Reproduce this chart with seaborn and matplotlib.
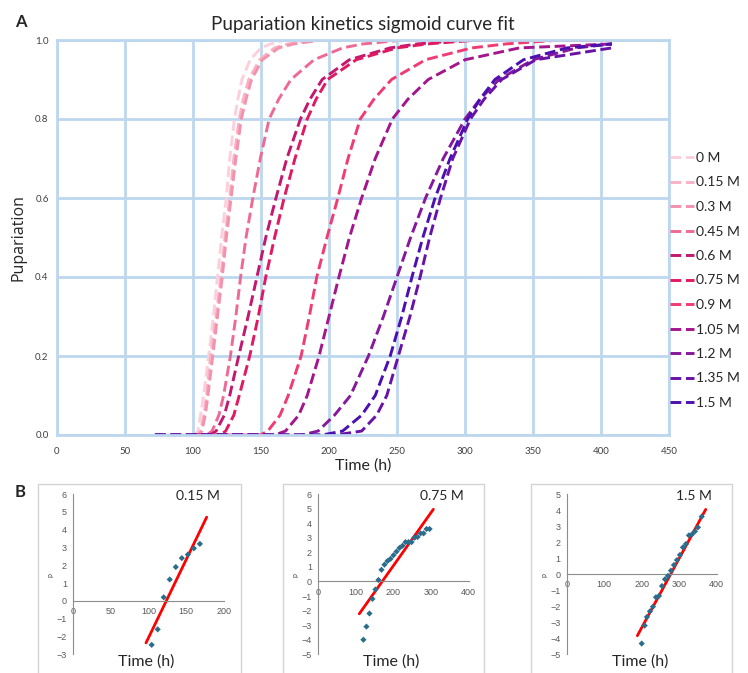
import matplotlib
matplotlib.use("Agg")
import matplotlib.pyplot as plt
from matplotlib.patches import Rectangle
import seaborn as sns

sns.set_style("white")
plt.rcParams['font.family'] = ['Lato', 'DejaVu Sans']

# pupariation levels (first/last entries = flat start / end)
levels = [0, 0, 0.01, 0.05, 0.1, 0.2, 0.3, 0.4, 0.5, 0.6, 0.7, 0.8, 0.85, 0.9, 0.95, 0.98, 0.99, 1.0, 1.0]

# time (h) at which each curve reaches the level above
t_000 = [100, 101.5, 103.5, 105.5, 107.8, 111.5, 115, 118, 121, 124.5, 127, 130.5, 133, 136, 142, 150, 157, 168, 408]
t_015 = [100, 103.5, 105.5, 108, 110, 113, 117, 120.5, 123.5, 127, 130, 134, 137, 141, 149, 160, 170, 190, 408]
t_030 = [100, 104, 106.5, 109, 111, 114.5, 118, 121.5, 124.5, 128, 131.5, 135.5, 139, 143, 151, 163, 174, 195, 408]
t_045 = [100, 110, 114, 119, 122.5, 127.5, 131.5, 135, 139, 144, 149.5, 156, 163, 172, 189, 210, 225, 255, 408]
t_060 = [100, 112.7, 117, 123, 127, 133.6, 140.5, 147, 153.5, 161, 169, 179, 186, 195, 215, 245, 265, 300, 408]
t_075 = [100, 120, 124, 130, 134, 141.7, 148, 153.5, 160, 167, 175, 184, 190.5, 199, 220, 250, 272, 310, 408]
t_090 = [100, 149.5, 155, 164, 170, 179.5, 185.5, 191, 198.5, 206.5, 214, 223, 233, 246, 271, 305, 330, 370, 408]
t_105 = [72, 160, 168, 177.7, 184, 192.7, 200, 207.3, 215, 224, 234, 246.6, 258, 273, 300, 340, 408]
t_120 = [72, 180, 192, 204, 215.8, 229, 240, 250, 260, 271, 284, 300, 311, 325, 350, 382, 408]
t_135 = [72, 205, 224, 235, 242.5, 251, 259.5, 267, 274, 282, 291, 304, 314, 327, 352, 408]
t_150 = [72, 195, 210, 224, 234, 245, 253.5, 261, 269, 278, 289, 302, 311, 322, 343, 375, 408]

conc_labels = ['0 M', '0.15 M', '0.3 M', '0.45 M', '0.6 M', '0.75 M', '0.9 M',
               '1.05 M', '1.2 M', '1.35 M', '1.5 M']
conc_colors = ['#fbd0dc', '#f8b2c4', '#f492ad', '#ee6a94', '#c2186f', '#e01a62', '#f03c72',
               '#a3168c', '#86189c', '#6a12a8', '#4c0fb0']
curve_times = [t_000, t_015, t_030, t_045, t_060, t_075, t_090, t_105, t_120, t_135, t_150]

# linearised panels (B)
b1_t = [104, 112, 120, 128, 136, 144, 152, 160, 168]
b1_p = [-2.47, -1.6, 0.2, 1.2, 1.9, 2.4, 2.6, 2.95, 3.2]
b1_fit_t = [96.5, 177]
b1_fit_p = [-2.36, 4.7]

b2_t = [120, 128, 136, 144, 152, 160, 168, 176, 184, 192, 200, 208, 216, 224, 232, 240,
        248, 256, 264, 272, 280, 288, 296]
b2_p = [-4.0, -3.1, -2.2, -1.2, -0.55, 0.1, 0.8, 1.15, 1.4, 1.55, 1.8, 2.05, 2.3, 2.45,
        2.7, 2.7, 2.7, 3.0, 3.05, 3.3, 3.3, 3.6, 3.6]
b2_fit_t = [109, 306]
b2_fit_p = [-2.22, 4.95]

b3_t = [200, 208, 214, 222, 230, 238, 246, 254, 262, 270, 278, 286, 294, 302, 310, 318,
        326, 334, 342, 350, 360]
b3_p = [-4.33, -3.21, -2.67, -2.32, -2.03, -1.44, -1.36, -0.74, -0.32, -0.11, 0.22, 0.57,
        0.88, 1.2, 1.67, 1.88, 2.42, 2.48, 2.67, 2.92, 3.59]
b3_fit_t = [188.4, 370.7]
b3_fit_p = [-3.84, 4.04]

W, H = 748, 673
fig = plt.figure(figsize=(W / 100, H / 100), dpi=100)


def fx(px):
    return px / W


def fy(py):
    return 1 - py / H


grid_blue = '#bdd7ee'

# ---- panel A ----
ax = fig.add_axes([fx(57), fy(435), fx(669) - fx(57), fy(40) - fy(435)])
for t, lab, col in zip(curve_times, conc_labels, conc_colors):
    sns.lineplot(x=t, y=levels[:len(t)], ax=ax, color=col, linestyle='--', lw=2.1,
                 dashes=(3, 1.6), label=lab, sort=False, estimator=None)

ax.set_xlim(0, 450)
ax.set_ylim(0, 1.0)
ax.set_xticks(range(0, 451, 50))
ax.set_yticks([0, 0.2, 0.4, 0.6, 0.8, 1.0])
ax.set_yticklabels(['0.0', '0.2', '0.4', '0.6', '0.8', '1.0'])
ax.grid(True, color=grid_blue, lw=2.0)
ax.set_axisbelow(True)
for s in ax.spines.values():
    s.set_color(grid_blue)
    s.set_linewidth(2.0)
ax.tick_params(length=0, labelsize=7, colors='#404040')
ax.tick_params(axis='x', pad=9)
ax.tick_params(axis='y', pad=6)
ax.set_xlabel('Time (h)', fontsize=11.5, labelpad=1)
ax.set_ylabel('Pupariation', fontsize=11.5, family=['Open Sans', 'DejaVu Sans'], labelpad=6)
ax.set_title('Pupariation kinetics sigmoid curve fit', fontsize=13.5, pad=7)
ax.legend(loc='upper left', bbox_to_anchor=(fx(670), fy(152)), bbox_transform=fig.transFigure,
          frameon=False, fontsize=10, handlelength=1.75, handletextpad=0.15,
          labelspacing=0.9, borderaxespad=0, borderpad=0)

fig.text(fx(15), fy(22), 'A', fontsize=12, fontweight='bold', va='center', ha='left')
fig.text(fx(15), fy(492), 'B', fontsize=12, fontweight='bold', va='center', ha='left')

# ---- panels B ----
panels = [
    (73.3, 224, 0, 200, -3, 6, range(0, 201, 50), b1_t, b1_p, b1_fit_t, b1_fit_p, '0.15 M', 38, 240.7),
    (318.3, 468.7, 0, 400, -5, 6, range(0, 401, 100), b2_t, b2_p, b2_fit_t, b2_fit_p, '0.75 M', 282.7, 484),
    (566.7, 716.7, 0, 400, -5, 5, range(0, 401, 100), b3_t, b3_p, b3_fit_t, b3_fit_p, '1.5 M', 530.7, 732),
]
for (x0, x1, xmin, xmax, ymin, ymax, xt, pt, pp, ft, fp, lab, bx0, bx1) in panels:
    fig.patches.append(Rectangle((fx(bx0), fy(700)), fx(bx1) - fx(bx0), fy(484) - fy(700),
                                 transform=fig.transFigure, fill=False,
                                 edgecolor='#d4d4d4', lw=1.0))
    bx = fig.add_axes([fx(x0), fy(654.3), fx(x1) - fx(x0), fy(494) - fy(654.3)])
    bx.patch.set_alpha(0)
    sns.lineplot(x=ft, y=fp, ax=bx, color='#ff0000', lw=2.0)
    sns.scatterplot(x=pt, y=pp, ax=bx, marker='D', s=10, color='#2a6d8c', edgecolor='none', zorder=3)
    bx.set_xlim(xmin, xmax)
    bx.set_ylim(ymin, ymax)
    bx.set_xticks(list(xt))
    bx.set_yticks(range(ymin, ymax + 1))
    bx.spines['left'].set_position(('data', 0))
    bx.spines['bottom'].set_position(('data', 0))
    bx.spines['top'].set_visible(False)
    bx.spines['right'].set_visible(False)
    for s in ('left', 'bottom'):
        bx.spines[s].set_color('#8c8c8c')
        bx.spines[s].set_linewidth(0.8)
    bx.tick_params(axis='both', direction='out', length=2.5, width=0.6, color='#8c8c8c',
                   labelsize=6.5, labelcolor='#595959', pad=2)
    for lbl in bx.get_xticklabels() + bx.get_yticklabels():
        lbl.set_family(['Liberation Sans', 'DejaVu Sans'])
    bx.set_xlabel('')
    bx.set_ylabel('')
    bx.text(0.97, 0.985, lab, transform=bx.transAxes, ha='right', va='center', fontsize=10)
    fig.text(fx((x0 + x1) / 2 - 2), fy(662), 'Time (h)', ha='center', va='center', fontsize=11.5)
    fig.text(fx(x0 - 23), fy(575), 'p', ha='center', va='center', fontsize=5, rotation=90,
             color='#404040')

fig.savefig('out.png', dpi=100)
